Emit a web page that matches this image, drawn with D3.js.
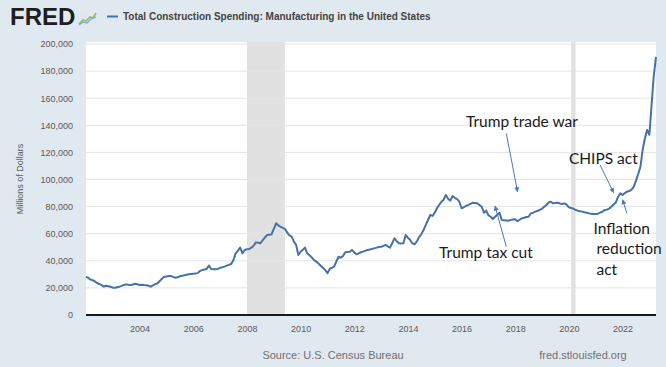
<!DOCTYPE html>
<html><head><meta charset="utf-8">
<script src="https://cdn.jsdelivr.net/npm/d3@7"></script>
<style>
body{margin:0;background:#e1e9f0;}
svg{display:block;font-family:"Liberation Sans",Arial,sans-serif;}
</style>
</head><body>
<svg id="chart" width="666" height="367"></svg>
<script>
// ---- data (millions of dollars, SAAR), monthly from Jan 2002 ----
const seriesStart = [2002, 0];
const values = [
  28300, 27400, 26200, 25700, 24800, 23600, 22900, 22100, 21000, 21600, 21200, 20800, // 2002
  20200, 20100, 20500, 20900, 21500, 22200, 22600, 22300, 22100, 22500, 23100, 22700, // 2003
  22100, 22400, 22100, 22000, 21600, 20900, 21800, 22800, 23400, 25100, 26700, 28300, // 2004
  28500, 28700, 28800, 28100, 27500, 27800, 28600, 29000, 29300, 29700, 30000, 30300, // 2005
  30500, 30700, 30900, 32500, 33100, 33600, 34000, 36400, 33900, 33700, 33800, 34000, // 2006
  34800, 35200, 35700, 36400, 37000, 37600, 40600, 45500, 47500, 49700, 45500, 48000, // 2007
  48500, 48700, 49700, 51100, 53600, 53300, 52900, 55000, 57200, 59000, 59300, 59600, // 2008
  63500, 67700, 66200, 65200, 64300, 63600, 61000, 58700, 57800, 54100, 51700, 44300, // 2009
  46700, 48200, 49700, 45500, 44100, 42600, 40600, 39400, 38000, 36400, 34800, 33200, // 2010
  30800, 34000, 34800, 35700, 39300, 43000, 42300, 43500, 46300, 46500, 46700, 48000, // 2011
  46000, 44800, 45500, 46300, 46800, 47500, 48000, 48300, 48800, 49200, 49700, 50200, // 2012
  50400, 51000, 51700, 50600, 49700, 53000, 56600, 54500, 52900, 52700, 52900, 59000, // 2013
  57000, 55400, 53000, 52200, 54100, 57500, 59600, 62700, 66500, 70100, 73800, 73100, // 2014
  75500, 78800, 81200, 83500, 84900, 88600, 85800, 84400, 87800, 86500, 85500, 83600, // 2015
  78800, 79500, 80500, 81200, 82000, 82900, 82700, 82400, 81200, 79900, 75500, 77000, // 2016
  73500, 72500, 70800, 72500, 74000, 75500, 70100, 70000, 69800, 69600, 70200, 70400, // 2017
  70600, 69200, 70300, 71400, 71800, 72300, 72500, 75000, 75500, 76300, 76800, 77500, // 2018
  78500, 80000, 81200, 83000, 83600, 82400, 82600, 82900, 82300, 81900, 82400, 81500, // 2019
  79500, 79000, 78500, 77500, 77000, 76600, 76300, 75800, 75400, 75000, 74800, 74600, // 2020
  74500, 74800, 75500, 76200, 77500, 77700, 78500, 79900, 81500, 83000, 87300, 89800, // 2021
  88600, 90000, 91000, 91500, 92300, 94500, 99000, 104000, 109400, 121800, 130400, 136500, // 2022
  133000, 156000, 176000, 190500 // 2023
];
const yTicks = [0, 20000, 40000, 60000, 80000, 100000, 120000, 140000, 160000, 180000, 200000];
const xTickYears = [2004, 2006, 2008, 2010, 2012, 2014, 2016, 2018, 2020, 2022];
const recessions = [["2008-01-01", "2009-06-01"], ["2020-02-01", "2020-04-01"]];
const titleText = "Total Construction Spending: Manufacturing in the United States";
const yLabel = "Millions of Dollars";
const sourceText = "Source: U.S. Census Bureau";
const siteText = "fred.stlouisfed.org";
// annotations: label lines, text anchor (date, value), arrow from/to (date, value)
const annotations = [
  {lines: ["Trump trade war"], at: ["2016-03-01", 138500], from: ["2017-09-01", 134000], to: ["2018-02-01", 91000]},
  {lines: ["CHIPS act"], at: ["2020-01-01", 111800], from: ["2021-03-01", 110700], to: ["2021-09-01", 90300]},
  {lines: ["Trump tax cut"], at: ["2015-03-01", 42300], from: ["2017-09-01", 50400], to: ["2017-04-01", 80400]},
  {lines: ["Inflation", "reduction", "act"], at: ["2020-12-01", 59800], from: ["2022-03-01", 75000], to: ["2022-01-01", 85000]}
];

// ---- layout ----
const svg = d3.select("#chart");
const W = 666, H = 367;
const plot = {left: 86, right: 656, top: 42, bottom: 315};

const parse = d3.timeParse("%Y-%m-%d");
const data = values.map((v, i) => ({date: new Date(seriesStart[0], seriesStart[1] + i, 1), value: v}));

const x = d3.scaleTime()
  .domain([data[0].date, data[data.length - 1].date])
  .range([plot.left, plot.right]);
const y = d3.scaleLinear().domain([0, 200000]).range([plot.bottom, 44]);

svg.append("rect").attr("width", W).attr("height", H).attr("fill", "#e1e9f0");
svg.append("rect").attr("x", plot.left).attr("y", plot.top)
  .attr("width", plot.right - plot.left).attr("height", plot.bottom - plot.top).attr("fill", "#ffffff");

// recession shading
svg.append("g").selectAll("rect").data(recessions).join("rect")
  .attr("x", d => x(parse(d[0])))
  .attr("width", d => x(parse(d[1])) - x(parse(d[0])))
  .attr("y", plot.top).attr("height", plot.bottom - plot.top)
  .attr("fill", "#e1e1e1");

// gridlines
svg.append("g").selectAll("line").data(yTicks.filter(d => d > 0)).join("line")
  .attr("x1", plot.left).attr("x2", plot.right)
  .attr("y1", d => y(d)).attr("y2", d => y(d))
  .attr("stroke", "#e4e4e4").attr("stroke-width", 1);

// y axis
const yAxis = svg.append("g").attr("transform", `translate(${plot.left},0)`)
  .call(d3.axisLeft(y).tickValues(yTicks).tickSize(0).tickPadding(13).tickFormat(d3.format(",")));
yAxis.select(".domain").remove();
yAxis.selectAll("text").attr("font-size", 9).attr("fill", "#595959")
  .attr("font-family", "'Liberation Sans', Arial, sans-serif");

// x axis
const xAxis = svg.append("g").attr("transform", `translate(0,${plot.bottom})`)
  .call(d3.axisBottom(x).tickValues(xTickYears.map(yr => new Date(yr, 0, 1)))
    .tickSize(0).tickPadding(11).tickFormat(d3.timeFormat("%Y")));
xAxis.select(".domain").remove();
xAxis.selectAll("text").attr("font-size", 9).attr("fill", "#595959")
  .attr("font-family", "'Liberation Sans', Arial, sans-serif");

// baseline
svg.append("line").attr("x1", plot.left).attr("x2", plot.right)
  .attr("y1", y(0)).attr("y2", y(0)).attr("stroke", "#1a1a1a").attr("stroke-width", 2);

// series line
svg.append("path").datum(data)
  .attr("fill", "none").attr("stroke", "#4572a7").attr("stroke-width", 2)
  .attr("stroke-linejoin", "round")
  .attr("d", d3.line().x(d => x(d.date)).y(d => y(d.value)));

// y label
svg.append("text").attr("transform", "translate(23,179) rotate(-90)")
  .attr("text-anchor", "middle").attr("font-size", 9).attr("fill", "#595959").text(yLabel);

// header: FRED logo + title
svg.append("text").attr("x", 10).attr("y", 25).attr("font-size", 24).attr("font-weight", 900)
  .attr("fill", "#1e1e1e").text("FRED");
const icon = svg.append("g").attr("transform", "translate(78,11)");
icon.append("rect").attr("width", 19).attr("height", 14).attr("fill", "#dfe8ee");
icon.append("polyline").attr("points", "1,13 5,9 8,10 12,6 15,7 18,2")
  .attr("fill", "none").attr("stroke", "#8cc06c").attr("stroke-width", 1.6);
icon.append("polyline").attr("points", "1,14 5,11 9,12 13,8 18,6")
  .attr("fill", "none").attr("stroke", "#7fa6cf").attr("stroke-width", 1.2);
svg.append("line").attr("x1", 107).attr("x2", 118).attr("y1", 16.5).attr("y2", 16.5)
  .attr("stroke", "#4572a7").attr("stroke-width", 2);
svg.append("text").attr("x", 123).attr("y", 20).attr("font-size", 10).attr("font-weight", "bold")
  .attr("fill", "#444444").text(titleText);

// footer
svg.append("text").attr("x", 333).attr("y", 359).attr("text-anchor", "middle")
  .attr("font-size", 11).attr("fill", "#707070").text(sourceText);
svg.append("text").attr("x", 583).attr("y", 359).attr("text-anchor", "middle")
  .attr("font-size", 11).attr("fill", "#707070").text(siteText);

// annotations
const defs = svg.append("defs");
defs.append("marker").attr("id", "ah").attr("viewBox", "0 0 10 10").attr("refX", 9).attr("refY", 5)
  .attr("markerWidth", 5).attr("markerHeight", 5).attr("orient", "auto")
  .append("path").attr("d", "M0,0 L10,5 L0,10 z").attr("fill", "#4a78b8");
const ann = svg.append("g");
annotations.forEach(a => {
  ann.append("line")
    .attr("x1", x(parse(a.from[0]))).attr("y1", y(a.from[1]))
    .attr("x2", x(parse(a.to[0]))).attr("y2", y(a.to[1]))
    .attr("stroke", "#4a78b8").attr("stroke-width", 1).attr("marker-end", "url(#ah)");
  const t = ann.append("text").attr("x", x(parse(a.at[0]))).attr("y", y(a.at[1]))
    .attr("font-family", "Lato, 'Open Sans', sans-serif").attr("font-size", 15.5).attr("fill", "#1a1a1a");
  a.lines.forEach((l, i) => t.append("tspan").attr("x", x(parse(a.at[0])) + (i === 0 ? 0 : 3))
    .attr("dy", i === 0 ? 0 : 20.5).text(l));
});
</script>
</body></html>
